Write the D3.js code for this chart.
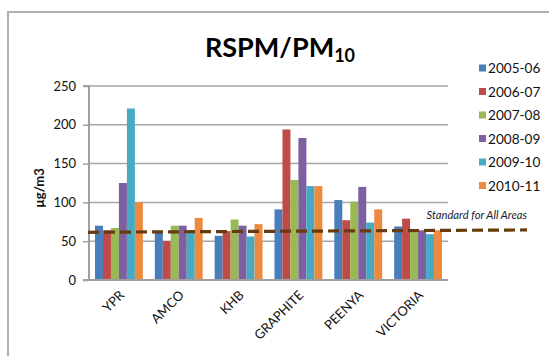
<!DOCTYPE html>
<html>
<head>
<meta charset="utf-8">
<script src="https://cdn.jsdelivr.net/npm/d3@7"></script>
<style>
  html, body { margin: 0; padding: 0; background: #fff; }
  svg { display: block; font-family: Lato, "Open Sans", sans-serif; }
</style>
</head>
<body>
<svg id="chart" width="549" height="356"></svg>
<script>
const categories = ["YPR", "AMCO", "KHB", "GRAPHITE", "PEENYA", "VICTORIA"];
const seriesNames = ["2005-06", "2006-07", "2007-08", "2008-09", "2009-10", "2010-11"];
const v2005 = [70, 63, 57, 91, 103, 69];
const v2006 = [64, 50, 63, 194, 77, 79];
const v2007 = [67, 70, 78, 129, 101, 65];
const v2008 = [125, 70, 70, 183, 120, 64];
const v2009 = [221, 64, 56, 121, 74, 59];
const v2010 = [100, 80, 72, 121, 91, 64];
const seriesValues = [v2005, v2006, v2007, v2008, v2009, v2010];
const colors = ["#4a7ebb", "#be4b48", "#98b954", "#7d60a0", "#46aac5", "#ec8a3f"];
const yTicks = [0, 50, 100, 150, 200, 250];
const standardLine = [61.5, 64.5];
const standardLabel = "Standard for All Areas";

const svg = d3.select("#chart");
const pLeft = 89, pRight = 448, pTop = 86, pBottom = 280;

// frame
svg.append("path")
  .attr("d", `M8,356 L8,12 L549,12`)
  .attr("fill", "none").attr("stroke", "#b0b0b0").attr("stroke-width", 2);

const x0 = d3.scaleBand().domain(categories).range([pLeft, pRight]).paddingInner(0.2).paddingOuter(0.1);
const x1 = d3.scaleBand().domain(seriesNames).range([0, x0.bandwidth()]);
const y = d3.scaleLinear().domain([0, 250]).range([pBottom, pTop]);

// gridlines
svg.append("g").selectAll("line").data(yTicks.filter(d => d > 0)).join("line")
  .attr("x1", pLeft).attr("x2", pRight)
  .attr("y1", d => y(d)).attr("y2", d => y(d))
  .attr("stroke", "#a6a6a6").attr("stroke-width", 1.5);

// bars
const groups = svg.append("g").selectAll("g").data(categories).join("g")
  .attr("transform", d => `translate(${x0(d)},0)`);
groups.selectAll("rect")
  .data((c, ci) => seriesNames.map((s, si) => ({ s, si, v: seriesValues[si][ci] })))
  .join("rect")
  .attr("x", d => x1(d.s))
  .attr("width", x1.bandwidth())
  .attr("y", d => y(d.v))
  .attr("height", d => y(0) - y(d.v))
  .attr("fill", d => colors[d.si]);

// y axis
const yAxis = d3.axisLeft(y).tickValues(yTicks).tickSize(6).tickPadding(7);
const ga = svg.append("g").attr("transform", `translate(${pLeft},0)`).call(yAxis);
ga.select(".domain").attr("stroke", "#a0a0a0").attr("stroke-width", 2).attr("d", `M-6,${pTop}H0V${pBottom}H-6`);
ga.selectAll(".tick line").attr("stroke", "#a0a0a0").attr("stroke-width", 1.5);
ga.selectAll(".tick text").attr("font-size", 13).attr("fill", "#111").attr("font-family", "Lato, sans-serif");

// x axis
const xAxis = d3.axisBottom(x0).tickSize(0).tickPadding(0);
const gx = svg.append("g").attr("transform", `translate(0,${pBottom})`).call(xAxis);
gx.select(".domain").attr("stroke", "#a0a0a0").attr("stroke-width", 2).attr("d", `M${pLeft - 6},0H${pRight}`);
gx.selectAll(".tick text")
  .attr("font-size", 13).attr("fill", "#111").attr("font-family", "Lato, sans-serif")
  .attr("text-anchor", "end").attr("dy", null).attr("y", null)
  .attr("transform", "translate(6,16) rotate(-45)");

// standard line
const stdX = d3.scaleLinear().domain([0, 1]).range([pLeft - 1, pRight + 79]);
svg.append("line")
  .attr("x1", stdX(0)).attr("x2", stdX(1))
  .attr("y1", y(standardLine[0])).attr("y2", y(standardLine[1]))
  .attr("stroke", "#673b0d").attr("stroke-width", 3.2)
  .attr("stroke-dasharray", "11,5");
svg.append("text")
  .attr("x", stdX(1)).attr("y", 219)
  .attr("text-anchor", "end")
  .attr("font-size", 11.2).attr("font-style", "italic").attr("fill", "#1a1a2e")
  .text(standardLabel);

// y title
svg.append("text")
  .attr("transform", `translate(44,188) rotate(-90)`)
  .attr("text-anchor", "middle").attr("font-size", 13).attr("font-weight", "bold").attr("fill", "#111")
  .text("µg/m3");

// title
const title = svg.append("text").attr("x", 280).attr("y", 57).attr("text-anchor", "middle")
  .attr("font-size", 27).attr("font-weight", "bold").attr("fill", "#000");
title.append("tspan").text("RSPM/PM");
title.append("tspan").attr("font-size", 18).attr("dy", 5).text("10");

// legend
const legend = svg.append("g").selectAll("g").data(seriesNames).join("g")
  .attr("transform", (d, i) => `translate(479,${68 + i * 23.5})`);
legend.append("rect").attr("x", 0).attr("y", -3.5).attr("width", 7).attr("height", 7)
  .attr("fill", (d, i) => colors[i]);
legend.append("text").attr("x", 9).attr("y", 5).attr("font-size", 13.6).attr("fill", "#111").text(d => d);
</script>
</body>
</html>
